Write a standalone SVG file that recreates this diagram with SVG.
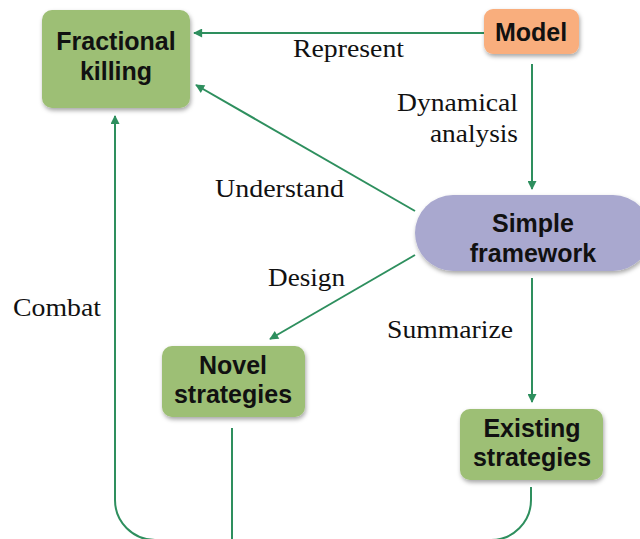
<svg xmlns="http://www.w3.org/2000/svg" width="640" height="539" viewBox="0 0 640 539">
  <defs>
    <filter id="shadow" x="-10%" y="-10%" width="130%" height="140%">
      <feDropShadow dx="1" dy="2.5" stdDeviation="2" flood-color="#000" flood-opacity="0.35"/>
    </filter>
    <marker id="arrow" viewBox="0 0 10 10" refX="9" refY="5" markerWidth="10" markerHeight="9" markerUnits="userSpaceOnUse" orient="auto">
      <path d="M0,0 L10,5 L0,10 z" fill="#2E8F5E"/>
    </marker>
    <style>
      .green { fill: #9DBF74; filter: url(#shadow); }
      .orange { fill: #F9AE7D; filter: url(#shadow); }
      .purple { fill: #A9A8CF; filter: url(#shadow); }
      .node-text { font-family: "Liberation Sans", Arial, sans-serif; font-weight: bold; font-size: 25px; fill: #111; text-anchor: middle; }
      .label { font-family: "Liberation Serif", "Times New Roman", serif; font-size: 25px; fill: #111; }
      .edge { fill: none; stroke: #2E8F5E; stroke-width: 2; }
    </style>
  </defs>

  <rect width="640" height="539" fill="#fff"/>

  <!-- connectors -->
  <g id="connectors">
    <line class="edge" x1="484" y1="33" x2="194" y2="33" marker-end="url(#arrow)"/>
    <line class="edge" x1="532" y1="64" x2="532" y2="189" marker-end="url(#arrow)"/>
    <line class="edge" x1="415" y1="211" x2="196" y2="85" marker-end="url(#arrow)"/>
    <line class="edge" x1="415" y1="255" x2="270" y2="339" marker-end="url(#arrow)"/>
    <line class="edge" x1="532" y1="278" x2="532" y2="402" marker-end="url(#arrow)"/>
    <path class="edge" d="M531,487 L531,500 A40,40 0 0 1 491,540 L155,540 A40,40 0 0 1 115,500 L115,116" marker-end="url(#arrow)"/>
    <line class="edge" x1="232" y1="428" x2="232" y2="540"/>

    <text class="label" x="293" y="57" textLength="111" lengthAdjust="spacingAndGlyphs">Represent</text>
    <text class="label" x="397" y="111" textLength="121" lengthAdjust="spacingAndGlyphs">Dynamical</text>
    <text class="label" x="430" y="142" textLength="88" lengthAdjust="spacingAndGlyphs">analysis</text>
    <text class="label" x="215" y="197" textLength="129" lengthAdjust="spacingAndGlyphs">Understand</text>
    <text class="label" x="268" y="286" textLength="77" lengthAdjust="spacingAndGlyphs">Design</text>
    <text class="label" x="387" y="338" textLength="126" lengthAdjust="spacingAndGlyphs">Summarize</text>
    <text class="label" x="13" y="316" textLength="88" lengthAdjust="spacingAndGlyphs">Combat</text>
  </g>

  <!-- nodes -->
  <g id="fractional-killing">
    <rect class="green" x="42" y="10" width="148" height="98" rx="10"/>
    <text class="node-text" x="116" y="50">Fractional</text>
    <text class="node-text" x="116" y="80">killing</text>
  </g>

  <g id="model">
    <rect class="orange" x="484" y="9" width="95" height="45" rx="9"/>
    <text class="node-text" x="531" y="41">Model</text>
  </g>

  <g id="simple-framework">
    <rect class="purple" x="415" y="195" width="236" height="76" rx="38"/>
    <text class="node-text" x="533" y="232">Simple</text>
    <text class="node-text" x="533" y="262">framework</text>
  </g>

  <g id="novel-strategies">
    <rect class="green" x="162" y="346" width="143" height="71" rx="10"/>
    <text class="node-text" x="233" y="374">Novel</text>
    <text class="node-text" x="233" y="403">strategies</text>
  </g>

  <g id="existing-strategies">
    <rect class="green" x="460" y="409" width="143" height="71" rx="10"/>
    <text class="node-text" x="532" y="437">Existing</text>
    <text class="node-text" x="532" y="466">strategies</text>
  </g>
</svg>
